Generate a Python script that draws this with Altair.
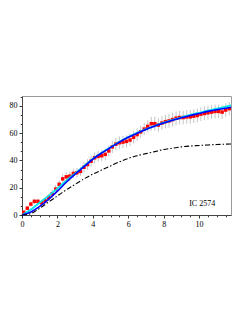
import altair as alt
import pandas as pd

# Observed data (red points with gray error bars)
obs_x = [0.1, 0.3, 0.5, 0.7, 0.9, 1.1, 1.3, 1.5, 1.7, 1.9, 2.1, 2.3, 2.5, 2.7, 2.9,
         3.1, 3.3, 3.5, 3.7, 3.9, 4.1, 4.3, 4.5, 4.7, 4.9, 5.1, 5.3, 5.5, 5.7, 5.9,
         6.1, 6.3, 6.5, 6.7, 6.9, 7.1, 7.3, 7.5, 7.7, 7.9, 8.1, 8.3, 8.5, 8.7, 8.9,
         9.1, 9.3, 9.5, 9.7, 9.9, 10.1, 10.3, 10.5, 10.7, 10.9, 11.1, 11.3, 11.5, 11.7]
obs_v = [2, 5, 8, 10, 10, 9, 10.5, 13, 15.5, 19, 22.5, 26.5, 28, 28.5, 30.5,
         31, 32, 35, 37, 39.5, 42, 43, 43.5, 44.5, 47, 50, 52, 53, 53.5, 54,
         55, 57, 59, 61, 63, 65, 67, 67, 66, 67.5, 68.5, 69, 70, 71, 71.5,
         71.5, 72, 72, 72.5, 73, 74, 74.5, 75, 75.5, 76, 76, 75.5, 77, 78]
obs_err = [1.5, 1.5, 2, 2, 2, 2, 2.5, 2.5, 3, 3, 3, 3.5, 3.5, 3.5, 3.5,
           3.5, 3.5, 4, 4, 4, 4, 4, 4, 4, 4, 4.5, 4.5, 4.5, 4.5, 4.5,
           4.5, 4.5, 4.5, 4.5, 4.5, 4.5, 5, 5, 5, 5, 5, 5, 5, 5, 5,
           5, 5, 5, 5, 5, 5, 5, 5, 5, 5, 5, 5, 5, 5]

# Model curves
mod_x = [0, 0.5, 1, 1.5, 2, 2.5, 3, 3.5, 4, 4.5, 5, 5.5, 6, 6.5, 7, 7.5, 8, 8.5,
         9, 9.5, 10, 10.5, 11, 11.5, 11.8]
blue_v = [0, 2.2, 6.3, 11.5, 17.5, 24, 30, 35.5, 41, 45.5, 49.5, 53.5, 57, 60, 62.8,
          65.2, 67.5, 69.5, 71.3, 73, 74.5, 76, 77.2, 78.3, 79]
cyan_v = [0, 4, 9.2, 14, 19.5, 25.2, 30.5, 35.8, 41.2, 45.7, 49.7, 53.7, 57.2, 60.2, 63,
          65.4, 67.7, 69.8, 71.7, 73.4, 75, 76.6, 78, 79.5, 80.4]
dash_v = [0, 1, 5, 9.5, 14, 18.5, 22.5, 26.5, 30, 33, 36, 39, 41.5, 43.5, 45,
          46.5, 48, 49, 50, 50.6, 51, 51.4, 51.7, 52, 52.1]

label_x = [10.17]
label_y = [7.9]
label_t = ["IC 2574"]

x_major = [0, 2, 4, 6, 8, 10]
y_major = [0, 20, 40, 60, 80]
x_minor = [i * 0.5 for i in range(24)]
y_minor = [round(i * 20 / 3, 4) for i in range(14)]

obs = pd.DataFrame({"x": obs_x, "v": obs_v,
                    "lo": [v - e for v, e in zip(obs_v, obs_err)],
                    "hi": [v + e for v, e in zip(obs_v, obs_err)]})
mod = pd.DataFrame({"x": mod_x, "blue": blue_v, "cyan": cyan_v, "dash": dash_v})
lab = pd.DataFrame({"x": label_x, "y": label_y, "t": label_t})

font = "Liberation Serif"
xscale = alt.Scale(domain=[0, 11.8], nice=False, zero=False)
yscale = alt.Scale(domain=[0, 87.3], nice=False, zero=False)

common = dict(title=None, grid=False, labelOverlap=False, labelFont=font, labelFontSize=8,
              labelColor="black", labelPadding=2, tickColor="#333", domainColor="#444",
              labelFlush=False)

xaxis = alt.Axis(values=x_major, tickSize=3, format="d", orient="bottom", **common)
yaxis = alt.Axis(values=y_major, tickSize=3, format="d", orient="left", **common)
xaxis_minor = alt.Axis(values=x_minor, tickSize=1.8, labels=False, domain=False,
                       orient="bottom", title=None, grid=False, tickColor="#333")
yaxis_minor = alt.Axis(values=y_minor, tickSize=1.8, labels=False, domain=False,
                       orient="left", title=None, grid=False, tickColor="#333")

minor = alt.Chart(obs).mark_point(opacity=0).encode(
    x=alt.X("x:Q", scale=xscale, axis=xaxis_minor),
    y=alt.Y("v:Q", scale=yscale, axis=yaxis_minor),
)
errs = alt.Chart(obs).mark_rule(color="#c4c4c4", strokeWidth=1).encode(
    x=alt.X("x:Q", scale=xscale, axis=xaxis),
    y=alt.Y("lo:Q", scale=yscale, axis=yaxis),
    y2="hi:Q",
)
pts = alt.Chart(obs).mark_square(color="#ff0000", size=12, opacity=1).encode(
    x=alt.X("x:Q", scale=xscale, axis=None), y=alt.Y("v:Q", scale=yscale, axis=None))
cyan = alt.Chart(mod).mark_line(color="#00e5ee", strokeWidth=1.8, interpolate="monotone").encode(
    x=alt.X("x:Q", scale=xscale, axis=None), y=alt.Y("cyan:Q", scale=yscale, axis=None))
blue = alt.Chart(mod).mark_line(color="#0000ff", strokeWidth=1.6, interpolate="monotone").encode(
    x=alt.X("x:Q", scale=xscale, axis=None), y=alt.Y("blue:Q", scale=yscale, axis=None))
dash = alt.Chart(mod).mark_line(color="black", strokeWidth=1.1, strokeDash=[5, 2, 1.5, 2],
                                interpolate="monotone").encode(
    x=alt.X("x:Q", scale=xscale, axis=None), y=alt.Y("dash:Q", scale=yscale, axis=None))
txt = alt.Chart(lab).mark_text(font=font, fontSize=8, fill="black", color="black").encode(
    x=alt.X("x:Q", scale=xscale, axis=None), y=alt.Y("y:Q", scale=yscale, axis=None), text="t:N")

chart = alt.layer(minor, errs, pts, cyan, blue, dash, txt).resolve_axis(
    x="independent", y="independent"
).properties(
    width=209, height=119,
    padding={"left": 14, "top": 88, "right": 8, "bottom": 90},
    autosize=alt.AutoSizeParams(type="none"),
).configure_view(stroke="#9a9a9a", strokeWidth=1)

chart.save("out.html", embed_options={"renderer": "svg", "actions": False})
